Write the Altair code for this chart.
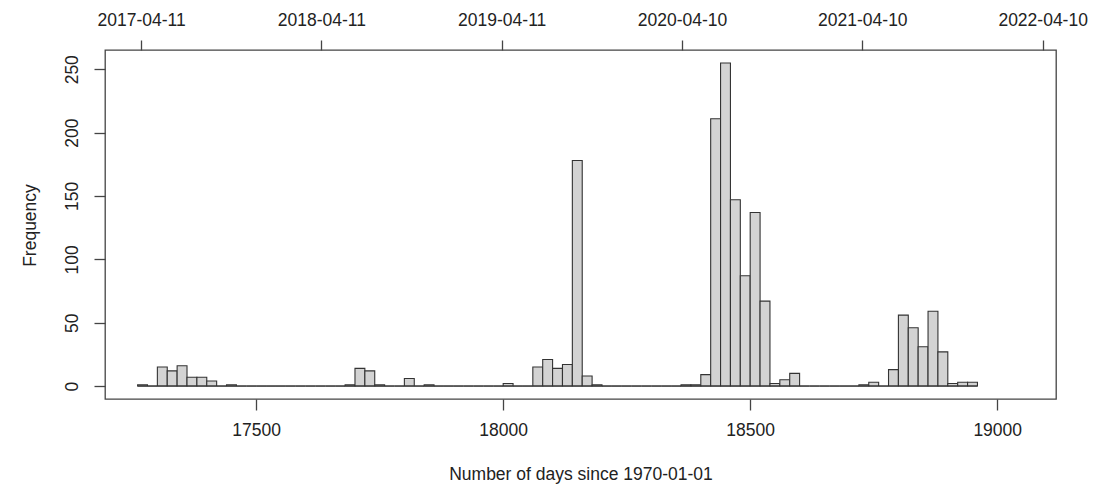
import altair as alt
import pandas as pd

# histogram breaks (days since 1970-01-01): first break and bin width
bin_start = 17260
bin_width = 20
# counts per 20-day bin
counts = [1, 0, 15, 12, 16, 7, 7, 4, 0, 1,
          0, 0, 0, 0, 0, 0, 0, 0, 0, 0,
          0, 1, 14, 12, 1, 0, 0, 6, 0, 1,
          0, 0, 0, 0, 0, 0, 0, 2, 0, 0,
          15, 21, 14, 17, 178, 8, 1, 0, 0, 0,
          0, 0, 0, 0, 0, 1, 1, 9, 211, 255,
          147, 87, 137, 67, 2, 5, 10, 0, 0, 0,
          0, 0, 0, 1, 3, 0, 13, 56, 46, 31,
          59, 27, 2, 3, 3]

bottom_ticks = [17500, 18000, 18500, 19000]
y_ticks = [0, 50, 100, 150, 200, 250]
top_dates = ["2017-04-11", "2018-04-11", "2019-04-11", "2020-04-10", "2021-04-10", "2022-04-10"]
top_days = [int((pd.Timestamp(d) - pd.Timestamp("1970-01-01")).days) for d in top_dates]

x_domain = [17194, 19119]
y_domain = [-10.2, 265.2]

starts = [bin_start + bin_width * i for i in range(len(counts))]
df = pd.DataFrame({
    "start": starts,
    "end": [s + bin_width for s in starts],
    "count": counts,
    "zero": [0] * len(counts),
})

FONT = "Liberation Sans"
FS = 17.5
xscale = alt.Scale(domain=x_domain, nice=False, zero=False)
yscale = alt.Scale(domain=y_domain, nice=False, zero=False)

bars = alt.Chart(df).mark_rect(fill="#d3d3d3", stroke="#333333", strokeWidth=1.1).encode(
    x=alt.X("start:Q", scale=xscale,
            axis=alt.Axis(orient="bottom", values=bottom_ticks, format="d", tickSize=11,
                          labelPadding=20, labelBaseline="middle",
                          title="Number of days since 1970-01-01",
                          titleX=475.5, titleY=75, titleBaseline="middle", titleAlign="center")),
    x2="end:Q",
    y=alt.Y("count:Q", scale=yscale,
            axis=alt.Axis(orient="left", values=y_ticks, format="d", tickSize=11,
                          labelAngle=-90, labelAlign="center", labelBaseline="middle",
                          labelPadding=22, title="Frequency",
                          titleX=-75, titleY=175, titleAngle=-90,
                          titleBaseline="middle", titleAlign="center")),
    y2="zero:Q",
)

top = alt.Chart(df).mark_rule(color="#333333", strokeWidth=1.1).encode(
    x=alt.X("start:Q", scale=xscale,
            axis=alt.Axis(orient="top", values=top_days, tickSize=10,
                          labelExpr="utcFormat(datum.value * 86400000, '%Y-%m-%d')",
                          labelPadding=20, labelBaseline="middle", title=None)),
    x2="end:Q",
    y=alt.Y("zero:Q", scale=yscale, axis=None),
)

chart = alt.layer(bars, top).resolve_axis(x="independent", y="independent").properties(
    width=951, height=349,
    autosize=alt.AutoSizeParams(type="none"),
    padding={"left": 105, "top": 50, "right": 48, "bottom": 87},
    background="white",
).configure_view(
    stroke="#444444", strokeWidth=1.3
).configure_axis(
    grid=False, domain=False,
    labelFont=FONT, labelFontSize=FS, labelColor="#222222",
    titleFont=FONT, titleFontSize=FS, titleColor="#222222", titleFontWeight="normal",
    tickColor="#444444", tickWidth=1.3,
)

chart.save("out.html", embed_options={"renderer": "svg", "actions": False})
